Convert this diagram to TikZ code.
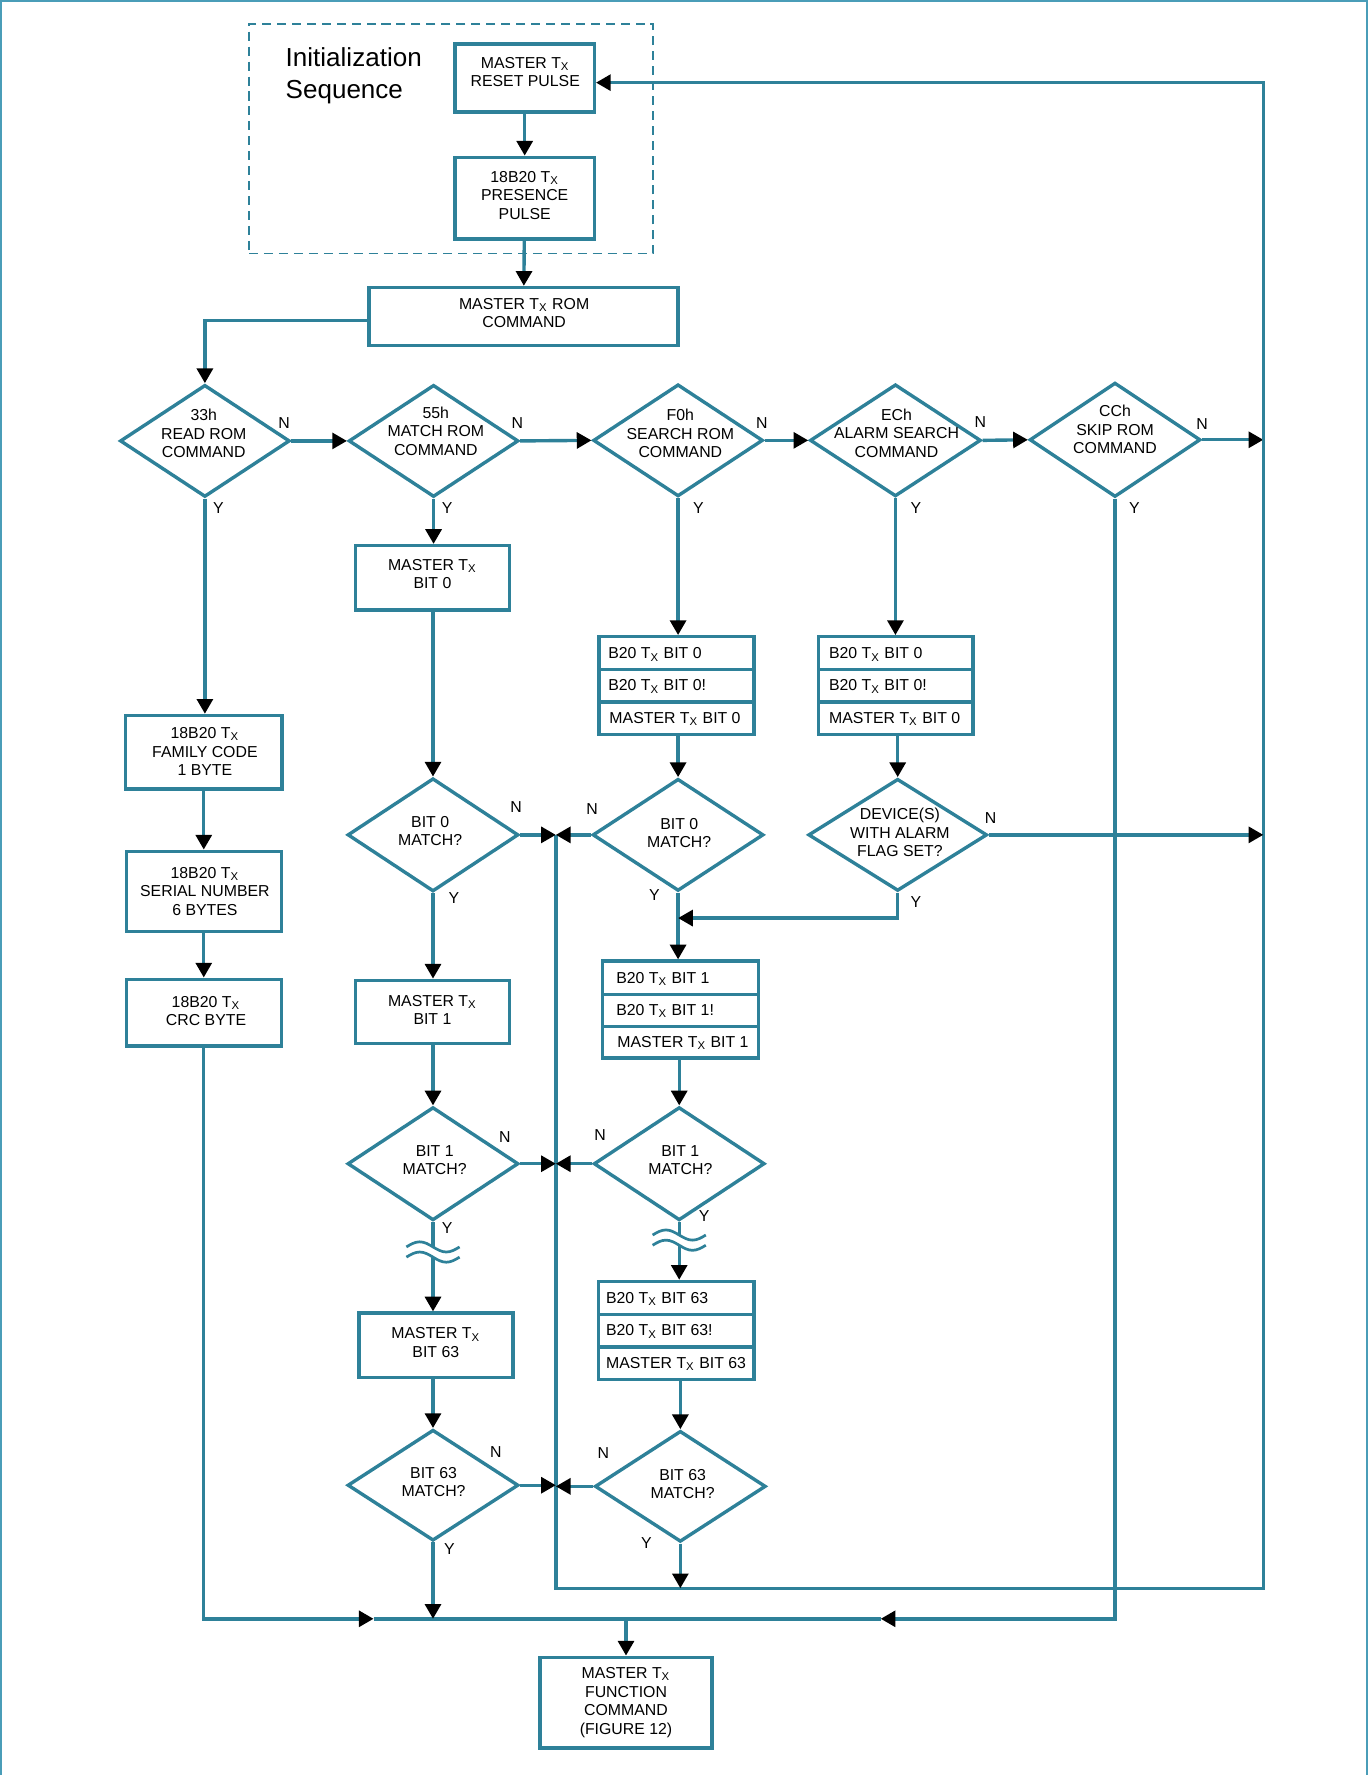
\documentclass[tikz,border=0pt]{standalone}
\usepackage{fontspec}
\setmainfont{Liberation Sans}
\usetikzlibrary{arrows.meta,shapes.geometric}
\definecolor{lc}{HTML}{2E8199}
\definecolor{fc}{HTML}{4A9DB8}
\newcommand\TX{T\textsubscript{X}}
\newcommand\fsz{\fontsize{7}{8.2}\selectfont}
\newcommand\fbig{\fontsize{11.5}{14}\selectfont}
\begin{document}
\begin{tikzpicture}[x=0.5pt,y=-0.5pt,
  ln/.style={draw=lc,line width=1.5pt},
  arr/.style={ln,-{Triangle[length=6.5pt,width=7pt,color=black,fill=black]}},
  box/.style={draw=lc,line width=1.5pt,rectangle,inner sep=0pt},
  dia/.style={draw=lc,line width=1.5pt,diamond,inner sep=0pt},
  txt/.style={font=\fsz,align=center,inner sep=0pt,text=black},
  rtxt/.style={font=\fsz,anchor=west,inner sep=0pt,text=black},
  yn/.style={font=\fsz,inner sep=0pt,text=black},
  brk/.style={draw=lc,line width=1.2pt},
  dashbox/.style={draw=lc,line width=0.7pt,dash pattern=on 4pt off 2.6pt,rectangle,inner sep=0pt},
  framel/.style={draw=fc,line width=0.9pt}
]
\useasboundingbox (0,0) rectangle (1209.35,1568);
\draw[framel] (0.7,1568) -- (0.7,1) -- (1207.9,1) -- (1207.9,1568);

% initialization sequence
\node[dashbox,minimum width=178.5pt,minimum height=101.5pt] (init) at (398.5,122.5) {};
\node[font=\fbig,align=left,anchor=west,inner sep=0pt] (initT) at (252,67) {Initialization\\Sequence};

\node[box,minimum width=61.5pt,minimum height=30pt] (reset) at (463.5,69) {};
\node[txt] (resetT) at (464,63.5) {MASTER \TX\\RESET PULSE};
\node[box,minimum width=61.5pt,minimum height=36pt] (pres) at (463.5,175) {};
\node[txt] (presT) at (463.5,172.5) {18B20 \TX\\PRESENCE\\PULSE};
\node[box,minimum width=136.5pt,minimum height=25.5pt] (rom) at (462.5,279.5) {};
\node[txt] (romT) at (463,276.5) {MASTER \TX{} ROM\\COMMAND};

% ROM command diamonds
\node[dia,minimum width=75pt,minimum height=49.5pt] (d33) at (181,389.5) {};
\node[txt] (d33T) at (180,383) {33h\\READ ROM\\COMMAND};
\node[dia,minimum width=75pt,minimum height=49.5pt] (d55) at (383,389.5) {};
\node[txt] (d55T) at (385,381) {55h\\MATCH ROM\\COMMAND};
\node[dia,minimum width=75pt,minimum height=49.5pt] (dF0) at (599,389) {};
\node[txt] (dF0T) at (601,383) {F0h\\SEARCH ROM\\COMMAND};
\node[dia,minimum width=75.5pt,minimum height=49.5pt] (dEC) at (791,389) {};
\node[txt] (dECT) at (792,382.5) {ECh\\ALARM SEARCH\\COMMAND};
\node[dia,minimum width=75.5pt,minimum height=50.5pt] (dCC) at (985,388.5) {};
\node[txt] (dCCT) at (985,379.5) {CCh\\SKIP ROM\\COMMAND};

% column 1
\node[box,minimum width=69pt,minimum height=32.5pt] (fam) at (180,664.5) {};
\node[txt] (famT) at (181,664) {18B20 \TX\\FAMILY CODE\\1 BYTE};
\node[box,minimum width=68.5pt,minimum height=35.5pt] (ser) at (180,787.5) {};
\node[txt] (serT) at (181,787.5) {18B20 \TX\\SERIAL NUMBER\\6 BYTES};
\node[box,minimum width=68.5pt,minimum height=29.5pt] (crc) at (180,894.5) {};
\node[txt] (crcT) at (182,893) {18B20 \TX\\CRC BYTE};

% column 2
\node[box,minimum width=68pt,minimum height=28.5pt] (bit0) at (382,510.5) {};
\node[txt] (bit0T) at (382,507) {MASTER \TX\\BIT 0};
\node[dia,minimum width=75.5pt,minimum height=50pt] (m0a) at (382.5,737.5) {};
\node[txt] (m0aT) at (380,734) {BIT 0\\MATCH?};
\node[box,minimum width=68pt,minimum height=28pt] (bit1) at (382,894) {};
\node[txt] (bit1T) at (382,892) {MASTER \TX\\BIT 1};
\node[dia,minimum width=75.5pt,minimum height=50pt] (m1a) at (382.5,1028) {};
\node[txt] (m1aT) at (384,1025) {BIT 1\\MATCH?};
\node[box,minimum width=68pt,minimum height=28.5pt] (bit63) at (385,1188.5) {};
\node[txt] (bit63T) at (385,1186) {MASTER \TX\\BIT 63};
\node[dia,minimum width=75.5pt,minimum height=49pt] (m63a) at (382.5,1312) {};
\node[txt] (m63aT) at (383,1309) {BIT 63\\MATCH?};

% column 3
\node[box,minimum width=68.5pt,minimum height=14.5pt] (s0a) at (597.5,577) {};
\node[rtxt] (s0aT) at (537,578) {B20 \TX{} BIT 0};
\node[box,minimum width=68.5pt,minimum height=14.25pt] (s0b) at (597.5,605.75) {};
\node[rtxt] (s0bT) at (537,606.5) {B20 \TX{} BIT 0!};
\node[box,minimum width=68.5pt,minimum height=14.3pt] (s0c) at (597.5,634.3) {};
\node[rtxt] (s0cT) at (538,635) {MASTER \TX{} BIT 0};
\node[dia,minimum width=75.5pt,minimum height=49.5pt] (m0b) at (599,737.5) {};
\node[txt] (m0bT) at (600,736) {BIT 0\\MATCH?};
\node[box,minimum width=69pt,minimum height=14.8pt] (s1a) at (601,863.8) {};
\node[rtxt] (s1aT) at (544,864.5) {B20 \TX{} BIT 1};
\node[box,minimum width=69pt,minimum height=14pt] (s1b) at (601,892.6) {};
\node[rtxt] (s1bT) at (544,893.3) {B20 \TX{} BIT 1!};
\node[box,minimum width=69pt,minimum height=13.95pt] (s1c) at (601,920.55) {};
\node[rtxt] (s1cT) at (545,921.3) {MASTER \TX{} BIT 1};
\node[dia,minimum width=75.5pt,minimum height=50pt] (m1b) at (600,1028) {};
\node[txt] (m1bT) at (601,1025) {BIT 1\\MATCH?};
\node[box,minimum width=68.75pt,minimum height=14.5pt] (s63a) at (597.25,1146.5) {};
\node[rtxt] (s63aT) at (535,1147.2) {B20 \TX{} BIT 63};
\node[box,minimum width=68.75pt,minimum height=14.5pt] (s63b) at (597.25,1175.5) {};
\node[rtxt] (s63bT) at (535,1176.2) {B20 \TX{} BIT 63!};
\node[box,minimum width=68.75pt,minimum height=14.2pt] (s63c) at (597.25,1204.2) {};
\node[rtxt] (s63cT) at (535,1204.9) {MASTER \TX{} BIT 63};
\node[dia,minimum width=75.5pt,minimum height=49pt] (m63b) at (601,1313) {};
\node[txt] (m63bT) at (603,1311) {BIT 63\\MATCH?};

% column 4
\node[box,minimum width=68.25pt,minimum height=14.5pt] (s4a) at (791.25,577) {};
\node[rtxt] (s4aT) at (732,578) {B20 \TX{} BIT 0};
\node[box,minimum width=68.25pt,minimum height=14.25pt] (s4b) at (791.25,605.75) {};
\node[rtxt] (s4bT) at (732,606.5) {B20 \TX{} BIT 0!};
\node[box,minimum width=68.25pt,minimum height=14.3pt] (s4c) at (791.25,634.3) {};
\node[rtxt] (s4cT) at (732,635) {MASTER \TX{} BIT 0};
\node[dia,minimum width=79pt,minimum height=49.5pt] (dev) at (793,737.5) {};
\node[txt] (devT) at (795,735.5) {DEVICE(S)\\WITH ALARM\\FLAG SET?};

% function command
\node[box,minimum width=76pt,minimum height=40pt] (func) at (553,1504) {};
\node[txt] (funcT) at (553,1504) {MASTER \TX\\FUNCTION\\COMMAND\\(FIGURE 12)};

% coordinates
\coordinate (lpTop) at (491,737.5);
\coordinate (lpBot) at (491,1403);
\coordinate (rBot) at (1116,1403);
\coordinate (rTop) at (1116,73);
\coordinate (b1) at (330,1430);
\coordinate (b2) at (778,1430);
\coordinate (mrg) at (599,811);
\coordinate (br1a) at (382.5,1101.5);
\coordinate (br1b) at (382.5,1110.5);
\coordinate (br2a) at (600,1091);
\coordinate (br2b) at (600,1100);

% connectors: top
\draw[arr] (reset) -- (pres);
\draw[arr] (pres) -- (rom);
\draw[arr] (rom.west |- 0,283) -| (d33.north);
\draw[arr] (d33.east) -- (d55.west);
\draw[arr] (d55.east) -- (dF0.west);
\draw[arr] (dF0.east) -- (dEC.west);
\draw[arr] (dEC.east) -- (dCC.west);
\draw[arr] (dCC.east) -- (dCC.east -| rTop);
\draw[arr] (lpTop) -- (lpBot) -- (rBot) -- (rTop) -- (rTop -| reset.east);

% column 1
\draw[arr] (d33.south) -- (d33.south |- fam.north);
\draw[arr] (fam) -- (ser);
\draw[arr] (ser) -- (crc);
\draw[arr] (crc.south) |- (b1);
\draw[ln] (b1) -- (b2);
\draw[arr] (dCC.south) |- (b2);
\draw[arr] (func.north |- b1) -- (func.north);

% column 2
\draw[arr] (d55.south) -- (d55.south |- bit0.north);
\draw[arr] (bit0.south -| m0a.north) -- (m0a.north);
\draw[arr] (m0a.south) -- (m0a.south |- bit1.north);
\draw[arr] (bit1.south -| m1a.north) -- (m1a.north);
\draw[ln] (m1a.south) -- (br1a);
\draw[arr] (br1b) -- (br1b |- bit63.north);
\draw[arr] (bit63.south -| m63a.north) -- (m63a.north);
\draw[arr] (m63a.south) -- (m63a.south |- b1);
\draw[arr] (m0a.east) -- (m0a.east -| lpTop);
\draw[arr] (m1a.east) -- (m1a.east -| lpTop);
\draw[arr] (m63a.east) -- (m63a.east -| lpTop);

% column 3
\draw[arr] (dF0.south) -- (dF0.south |- s0a.north);
\draw[arr] (m0b.north |- s0c.south) -- (m0b.north);
\draw[arr] (m0b.south) -- (m0b.south |- s1a.north);
\draw[arr] (m1b.north |- s1c.south) -- (m1b.north);
\draw[ln] (m1b.south) -- (br2a);
\draw[arr] (br2b) -- (br2b |- s63a.north);
\draw[arr] (m63b.north |- s63c.south) -- (m63b.north);
\draw[arr] (m63b.south) -- (m63b.south |- lpBot);
\draw[arr] (m0b.west) -- (m0b.west -| lpTop);
\draw[arr] (m1b.west) -- (m1b.west -| lpTop);
\draw[arr] (m63b.west) -- (m63b.west -| lpTop);

% column 4
\draw[arr] (dEC.south) -- (dEC.south |- s4a.north);
\draw[arr] (dev.north |- s4c.south) -- (dev.north);
\draw[arr] (dev.south) |- (mrg);
\draw[arr] (dev.east) -- (dev.east -| rTop);

% break symbols
\draw[brk] (359,1101.5) sin (370.75,1097) cos (382.5,1101.5) sin (394.25,1106) cos (406,1101.5);
\draw[brk] (359,1110.5) sin (370.75,1106) cos (382.5,1110.5) sin (394.25,1115) cos (406,1110.5);
\draw[brk] (576.5,1091) sin (588.25,1086.5) cos (600,1091) sin (611.75,1095.5) cos (623.5,1091);
\draw[brk] (576.5,1100) sin (588.25,1095.5) cos (600,1100) sin (611.75,1104.5) cos (623.5,1100);

% N / Y labels
\node[yn] (n33) at (251,374) {N};   \node[yn] (y33) at (193,449) {Y};
\node[yn] (n55) at (457,374) {N};   \node[yn] (y55) at (395,449) {Y};
\node[yn] (nF0) at (673,374) {N};   \node[yn] (yF0) at (617,449) {Y};
\node[yn] (nEC) at (866,373) {N};   \node[yn] (yEC) at (809,449) {Y};
\node[yn] (nCC) at (1062,375) {N};  \node[yn] (yCC) at (1002,449) {Y};
\node[yn] (nm0a) at (456,713) {N};  \node[yn] (ym0a) at (401,793) {Y};
\node[yn] (nm0b) at (523,715) {N};  \node[yn] (ym0b) at (578,791) {Y};
\node[yn] (ndev) at (875,723) {N};  \node[yn] (ydev) at (809,797) {Y};
\node[yn] (nm1a) at (446,1004) {N}; \node[yn] (ym1a) at (395,1085) {Y};
\node[yn] (nm1b) at (530,1003) {N}; \node[yn] (ym1b) at (622,1074) {Y};
\node[yn] (nm63a) at (438,1283) {N}; \node[yn] (ym63a) at (397,1368) {Y};
\node[yn] (nm63b) at (533,1284) {N}; \node[yn] (ym63b) at (571,1363) {Y};
\end{tikzpicture}
\end{document}
